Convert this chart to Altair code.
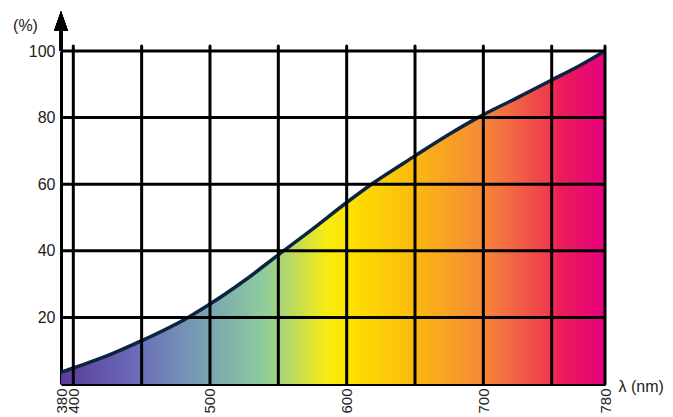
import altair as alt
import pandas as pd

# curve (x positions follow the drawing's own wavelength axis)
wavelength = [391, 400, 425, 450, 484, 500, 525, 550, 575, 600, 620, 650, 675, 696, 725, 750, 770, 789]
transmission = [3.5, 4.8, 8.5, 13, 20, 24, 31, 38.8, 46.5, 54.5, 60.5, 68.5, 75, 80, 86, 91.3, 95.5, 100]

x_grid = [400, 450, 500, 550, 600, 650, 700, 750, 789]
y_grid = [20, 40, 60, 80, 100]
x_tick_pos = [391, 400, 500, 600, 700, 789]
x_tick_text = ["380", "400", "500", "600", "700", "780"]
y_ticks = [20, 40, 60, 80, 100]

stop_offsets = [0, 0.149, 0.274, 0.375, 0.49, 0.524, 0.64, 0.776, 0.895, 0.917, 1]
stop_colors = ["#5b3a9b", "#6c70ba", "#79a6b2", "#8fcd9b", "#f7ec10", "#fee300",
               "#fbbd0c", "#f5883a", "#ef3c4e", "#ec1c58", "#e6007e"]

curve = pd.DataFrame({"x": wavelength, "y": transmission})
vgrid = pd.DataFrame({"x": x_grid})
hgrid = pd.DataFrame({"y": y_grid})

label_expr = "''"
for p, t in zip(x_tick_pos, x_tick_text):
    label_expr = f"datum.value == {p} ? '{t}' : ({label_expr})"

FONT = "Liberation Sans"
xscale = alt.Scale(domain=[391, 789], nice=False, zero=False)
yscale = alt.Scale(domain=[0, 100], nice=False)

x_axis = alt.Axis(values=x_tick_pos, labelExpr=label_expr, labelAngle=270, labelOverlap=False,
                  labelFlush=False, ticks=False, grid=False, domainColor="black", domainWidth=3,
                  labelFont=FONT, labelFontSize=15, labelColor="#222", labelPadding=4,
                  title="λ (nm)", titleFont=FONT, titleFontSize=16, titleFontWeight="normal",
                  titleColor="#222", titleAngle=0, titleAlign="left", titleBaseline="middle",
                  titleX=557, titleY=2)
y_axis = alt.Axis(values=y_ticks, ticks=False, grid=False, domainColor="black", domainWidth=3,
                  labelFont=FONT, labelFontSize=16, labelColor="#222", labelPadding=6,
                  title="(%)", titleFont=FONT, titleFontSize=16, titleFontWeight="normal",
                  titleColor="#222", titleAngle=0, titleAlign="center", titleBaseline="middle",
                  titleX=-36, titleY=-26)

gradient = alt.Gradient(
    gradient="linear",
    stops=[alt.GradientStop(offset=o, color=c) for o, c in zip(stop_offsets, stop_colors)],
    x1=0, x2=1, y1=0, y2=0,
)

area = alt.Chart(curve).mark_area(color=gradient, interpolate="monotone").encode(
    x=alt.X("x:Q", scale=xscale, axis=x_axis),
    y=alt.Y("y:Q", scale=yscale, axis=y_axis),
)
line = alt.Chart(curve).mark_line(color="#0b2440", strokeWidth=3.5, interpolate="monotone").encode(
    x=alt.X("x:Q", scale=xscale), y=alt.Y("y:Q", scale=yscale)
)
vrules = alt.Chart(vgrid).mark_rule(color="black", strokeWidth=3, strokeCap="round").encode(
    x=alt.X("x:Q", scale=xscale), y=alt.datum(0), y2=alt.datum(101.5)
)
hrules = alt.Chart(hgrid).mark_rule(color="black", strokeWidth=3).encode(
    y=alt.Y("y:Q", scale=yscale), x=alt.datum(391), x2=alt.datum(789)
)
shaft = alt.Chart(hgrid).mark_rule(color="black", strokeWidth=3).encode(
    x=alt.value(0), y=alt.value(0), y2=alt.value(-24)
)
head = alt.Chart(hgrid).mark_point(shape="M -0.7 1 L 0 -1 L 0.7 1 Z", filled=True, color="black",
                                   size=400, opacity=1, strokeWidth=0).encode(
    x=alt.value(0), y=alt.value(-30)
)

chart = alt.layer(area, line, vrules, hrules, shaft, head).properties(
    width=544, height=333,
    autosize=alt.AutoSizeParams(type="none"),
    padding={"left": 53, "top": 43, "right": 60, "bottom": 33},
).configure_view(stroke=None)

chart.save("out.html", embed_options={"renderer": "svg", "actions": False})
